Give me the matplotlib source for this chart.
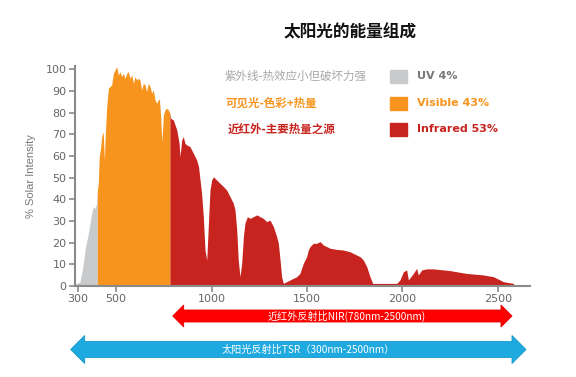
import matplotlib
matplotlib.use("Agg")
import matplotlib.pyplot as plt
from matplotlib import font_manager
from matplotlib.patches import Polygon, Rectangle

# ---------------- data ----------------
uv_nm = [285, 294, 311, 320, 329, 337, 346, 355, 364, 372, 381, 390, 398, 402]
uv_val = [0.6, 1.2, 1.8, 5.8, 10.4, 16.6, 20.4, 24.3, 28.9, 33.5, 36.6, 35.8, 38.2, 44.0]

vis_nm = [402, 407, 412, 419, 425, 433, 436, 439, 442, 444, 451, 460, 468, 477, 486, 495,
          503, 512, 521, 529, 538, 547, 556, 564, 573, 582, 591, 599, 608, 617, 625,
          634, 643, 652, 660, 669, 678, 687, 695, 704, 713, 721, 727, 734, 739, 745,
          748, 756, 765, 774, 782]
vis_val = [44.0, 47.4, 59.7, 63.6, 68.9, 71.2, 64.0, 58.1, 66.0, 70.4, 82.8, 91.2, 92.0, 92.8, 98.1, 99.7,
           101.2, 97.4, 98.9, 96.6, 98.1, 95.8, 98.1, 98.9, 95.8, 97.4, 93.5, 96.6, 95.1, 95.8, 95.1,
           90.5, 93.5, 92.8, 89.7, 93.5, 92.0, 88.9, 90.5, 85.9, 84.3, 85.9, 86.1, 78.1, 66.6, 74.0,
           78.9, 81.2, 82.0, 81.2, 79.7]

ir_nm = [782, 786, 800, 818, 830, 835, 840, 844, 852, 861, 870, 887, 905, 922, 932, 940, 948,
         957, 966, 975, 983, 992, 1001, 1010, 1027, 1044, 1062, 1079, 1097, 1114, 1123, 1132,
         1140, 1149, 1158, 1167, 1175, 1188, 1202, 1219, 1237, 1254, 1271, 1289, 1306, 1324,
         1341, 1350, 1359, 1367, 1376, 1446, 1463, 1481, 1498, 1507, 1516, 1533, 1551, 1568,
         1586, 1603, 1621, 1655, 1690, 1725, 1760, 1778, 1795, 1813, 1830, 1844, 1970, 1987,
         2005, 2022, 2031, 2057, 2074, 2083, 2101, 2127, 2162, 2249, 2336, 2424, 2476, 2511,
         2528, 2581, 2586]
ir_val = [79.7, 77.4, 76.6, 72.0, 66.0, 59.7, 64.0, 67.4, 68.9, 65.8, 65.1, 64.3, 61.2, 58.2, 55.0, 48.9, 42.8,
          32.0, 16.6, 12.0, 27.4, 44.3, 48.9, 50.4, 48.9, 47.4, 45.9, 44.3, 41.2, 38.2, 35.1, 25.9,
          12.0, 4.3, 10.5, 22.8, 29.0, 32.0, 31.2, 32.0, 32.8, 32.0, 31.2, 29.7, 30.4, 27.4,
          22.8, 19.7, 12.0, 4.3, 1.2, 4.3, 5.8, 10.5, 13.5, 16.6, 18.2, 19.7, 19.7, 20.5,
          18.9, 18.2, 17.4, 16.9, 16.6, 15.8, 14.3, 13.5, 12.0, 8.9, 4.3, 1.2, 1.2, 2.8,
          6.6, 7.4, 2.8, 5.8, 8.1, 5.1, 7.4, 7.9, 7.9, 7.1, 5.8, 5.1, 4.3, 2.8,
          2.0, 1.2, 0.0]

x_ticks = [300, 500, 1000, 1500, 2000, 2500]
y_ticks = [0, 10, 20, 30, 40, 50, 60, 70, 80, 90, 100]

legend_cn = ["紫外线-热效应小但破坏力强", "可见光-色彩+热量", "近红外-主要热量之源"]
legend_en = ["UV 4%", "Visible 43%", "Infrared 53%"]

# ---------------- style ----------------
C_UV = "#c8cacc"
C_VIS = "#f7941d"
C_IR = "#c8241f"
C_AX = "#8a8a8a"

avail = {f.name for f in font_manager.fontManager.ttflist}
CJK = ["Noto Sans CJK SC", "DejaVu Sans"]
narrow = "Liberation Sans Narrow" if "Liberation Sans Narrow" in avail else "Liberation Sans"

W, H = 576, 377
fig = plt.figure(figsize=(W / 100, H / 100), dpi=100)
fig.patch.set_facecolor("white")

def fx(px):
    return px / W

def fy(py):
    return 1 - py / H

ax = fig.add_axes([fx(75), fy(286), fx(530) - fx(75), fy(66) - fy(286)])
ax.fill_between(uv_nm, uv_val, color=C_UV, lw=0)
ax.fill_between(vis_nm, vis_val, color=C_VIS, lw=0)
ax.fill_between(ir_nm, ir_val, color=C_IR, lw=0)

ax.set_xlim(285, 2668)
ax.set_ylim(0, 101.5)
ax.set_xticks(x_ticks)
ax.set_yticks(y_ticks)
for s in ["top", "right"]:
    ax.spines[s].set_visible(False)
for s in ["left", "bottom"]:
    ax.spines[s].set_color(C_AX)
    ax.spines[s].set_linewidth(1.5)
ax.tick_params(axis="both", colors=C_AX, length=4, width=1.2, labelsize=8,
               labelcolor="#666666", pad=2)
ax.set_facecolor("none")
ax.set_ylabel("% Solar Intensity", fontsize=8, color="#777777", family=narrow, labelpad=7)

# ---------------- title & legend texts ----------------
fig.text(fx(350), fy(33), "太阳光的能量组成", fontsize=12, fontweight="bold",
         family=CJK, ha="center", va="center", color="#111111")

rows_y = [76, 103, 129]
cn_colors = ["#a8a8a8", C_VIS, C_IR]
en_colors = ["#777777", C_VIS, C_IR]
box_colors = [C_UV, C_VIS, C_IR]
cn_weights = ["normal", "bold", "bold"]
cn_x = [225, 225, 228]
for i in range(3):
    fig.text(fx(cn_x[i]), fy(rows_y[i]), legend_cn[i], fontsize=8.3, family=CJK,
             color=cn_colors[i], fontweight=cn_weights[i], ha="left", va="center")
    fig.patches.append(Rectangle((fx(390), fy(rows_y[i] + 6.5)), fx(17), 13 / H,
                                 transform=fig.transFigure, color=box_colors[i]))
    fig.text(fx(417), fy(rows_y[i]), legend_en[i], fontsize=8, family="DejaVu Sans",
             fontweight="bold", color=en_colors[i], ha="left", va="center")

# ---------------- double arrows ----------------
def double_arrow(x0, x1, yc, sh, hh, hl, color, edge):
    pts = [(x0, yc), (x0 + hl, yc - hh), (x0 + hl, yc - sh), (x1 - hl, yc - sh),
           (x1 - hl, yc - hh), (x1, yc), (x1 - hl, yc + hh), (x1 - hl, yc + sh),
           (x0 + hl, yc + sh), (x0 + hl, yc + hh)]
    pts = [(fx(a), fy(b)) for a, b in pts]
    fig.patches.append(Polygon(pts, closed=True, transform=fig.transFigure,
                               facecolor=color, edgecolor=edge, lw=0.6))

double_arrow(172.7, 512, 316, 6, 11, 11, "#ff0000", "#e00000")
fig.text(fx(347), fy(316.5), "近红外反射比NIR(780nm-2500nm)", fontsize=7.3, family=CJK,
         color="white", ha="center", va="center")

double_arrow(70.7, 526, 349.5, 8, 14, 14, "#1eaae0", "#1898c8")
fig.text(fx(308), fy(350), "太阳光反射比TSR（300nm-2500nm）", fontsize=7.3, family=CJK,
         color="white", ha="center", va="center")

fig.savefig("out.png", dpi=100, facecolor="white")
